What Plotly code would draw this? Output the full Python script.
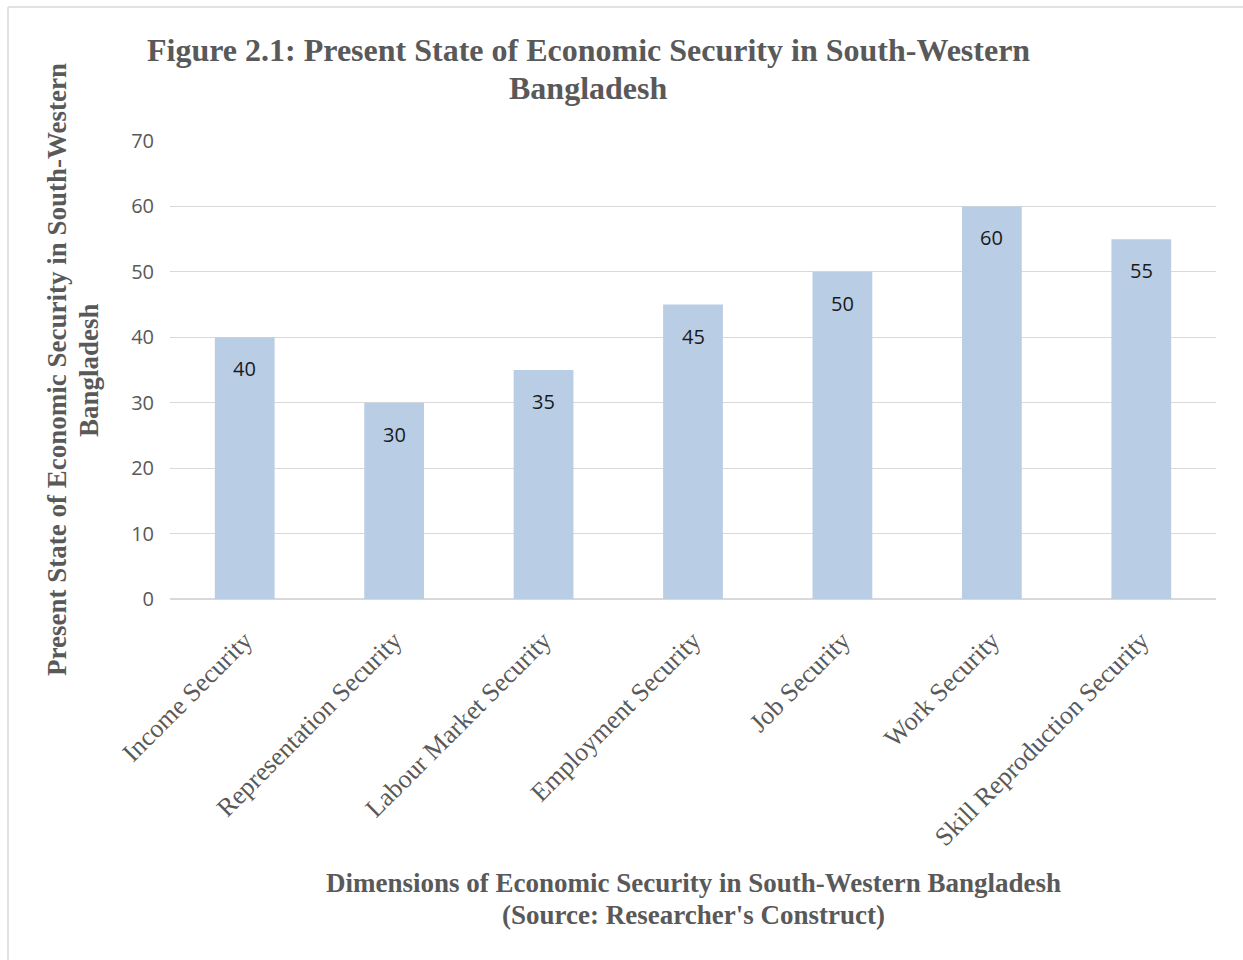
import plotly.graph_objects as go

categories = ["Income Security", "Representation Security", "Labour Market Security",
              "Employment Security", "Job Security", "Work Security",
              "Skill Reproduction Security"]
values = [40, 30, 35, 45, 50, 60, 55]
y_ticks = [0, 10, 20, 30, 40, 50, 60, 70]

title_lines = ["Figure 2.1: Present State of Economic Security in South-Western", "Bangladesh"]
y_title_lines = ["Present State of Economic Security in South-Western", "Bangladesh"]
x_title_lines = ["Dimensions of Economic Security in South-Western Bangladesh",
                 "(Source: Researcher's Construct)"]

GRAY = "#595959"
SERIF = "Liberation Serif, Times New Roman, serif"
SANS = "Open Sans, Carlito, Calibri, sans-serif"

fig = go.Figure()
fig.add_trace(go.Bar(
    x=categories, y=values,
    marker=dict(color="#B9CDE5", line=dict(width=0)),
    hoverinfo="x+y",
))

for c, v in zip(categories, values):
    fig.add_annotation(x=c, y=v, xref="x", yref="y", text=str(v), showarrow=False,
                       yanchor="top", yshift=-16,
                       font=dict(family=SANS, size=20, color="#1a1a1a"))

W, H = 1243, 960
L, R, T, B = 170, 27, 141, 361
pw, ph = W - L - R, H - T - B

def px(x):
    return (x - L) / pw

def py(y):
    return (H - B - y) / ph

# title lines
for txt, yy in zip(title_lines, [50, 88]):
    fig.add_annotation(text="<b>" + txt + "</b>", xref="paper", yref="paper", x=px(588), y=py(yy),
                       showarrow=False, xanchor="center", yanchor="middle",
                       font=dict(family=SERIF, size=32, color=GRAY))
# y title lines
for txt, xx in zip(y_title_lines, [57, 89]):
    fig.add_annotation(text="<b>" + txt + "</b>", xref="paper", yref="paper",
                       x=px(xx), y=py(370), showarrow=False, textangle=-90,
                       xanchor="center", yanchor="middle",
                       font=dict(family=SERIF, size=27, color=GRAY))
# x title lines
for txt, yy in zip(x_title_lines, [883, 915]):
    fig.add_annotation(text="<b>" + txt + "</b>", xref="paper", yref="paper",
                       x=px(693), y=py(yy), showarrow=False,
                       xanchor="center", yanchor="middle",
                       font=dict(family=SERIF, size=27, color=GRAY))

# frame
fig.add_shape(type="line", xref="paper", yref="paper", x0=px(8), x1=px(8), y0=py(7), y1=py(965),
              line=dict(color="#D9D9D9", width=1.5))
fig.add_shape(type="line", xref="paper", yref="paper", x0=px(8), x1=px(1250), y0=py(7), y1=py(7),
              line=dict(color="#D9D9D9", width=1.5))

fig.update_layout(
    width=W, height=H,
    margin=dict(l=L, r=R, t=T, b=B),
    paper_bgcolor="white", plot_bgcolor="white",
    bargap=0.6,
    showlegend=False,
    xaxis=dict(tickangle=-45, tickfont=dict(family=SERIF, size=26, color=GRAY),
               showgrid=False, showline=False, ticks="", ticklen=0, ticklabelstandoff=20),
    yaxis=dict(range=[0, 70], tickvals=y_ticks, showgrid=True, gridcolor="#D9D9D9",
               gridwidth=1, zeroline=True, zerolinecolor="#D9D9D9", zerolinewidth=1.5,
               showline=False, ticks="", ticklabelstandoff=15,
               tickfont=dict(family=SANS, size=20, color=GRAY)),
)

fig.write_html("out.html")
